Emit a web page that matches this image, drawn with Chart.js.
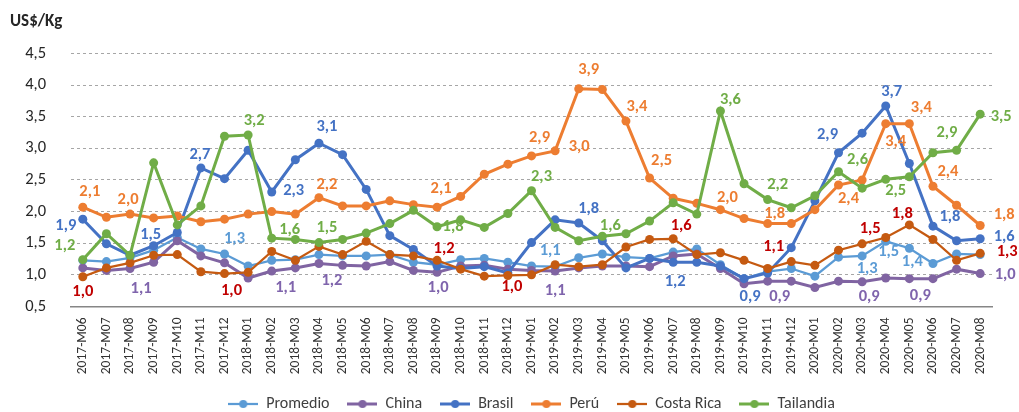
<!DOCTYPE html>
<html>
<head>
<meta charset="utf-8">
<script src="https://cdn.jsdelivr.net/npm/chart.js@4.4.1/dist/chart.umd.min.js"></script>
<style>
  html, body { margin: 0; padding: 0; background: #fff; }
  canvas { display: block; }
</style>
</head>
<body>
<canvas id="precios" width="1019" height="412"></canvas>
<script>
// Months shown on the x axis
const meses = [
  "2017-M06", "2017-M07", "2017-M08", "2017-M09", "2017-M10", "2017-M11", "2017-M12",
  "2018-M01", "2018-M02", "2018-M03", "2018-M04", "2018-M05", "2018-M06", "2018-M07",
  "2018-M08", "2018-M09", "2018-M10", "2018-M11", "2018-M12",
  "2019-M01", "2019-M02", "2019-M03", "2019-M04", "2019-M05", "2019-M06", "2019-M07",
  "2019-M08", "2019-M09", "2019-M10", "2019-M11", "2019-M12",
  "2020-M01", "2020-M02", "2020-M03", "2020-M04", "2020-M05", "2020-M06", "2020-M07",
  "2020-M08",
];

// Prices in US$/Kg
const promedio = [
  1.23, 1.21, 1.27, 1.39, 1.59, 1.41, 1.33, 1.14, 1.23, 1.24, 1.32, 1.30, 1.30,
  1.32, 1.20, 1.16, 1.24, 1.26, 1.20, 1.14, 1.13, 1.27, 1.33, 1.28, 1.26, 1.36,
  1.41, 1.16, 0.94, 1.05, 1.10, 0.98, 1.28, 1.30, 1.53, 1.42, 1.18, 1.33, 1.32,
];
const china = [
  1.11, 1.07, 1.10, 1.20, 1.54, 1.30, 1.19, 0.95, 1.06, 1.11, 1.18, 1.15, 1.14,
  1.21, 1.07, 1.04, 1.14, 1.15, 1.09, 1.07, 1.06, 1.11, 1.14, 1.14, 1.13, 1.30,
  1.33, 1.10, 0.86, 0.90, 0.90, 0.80, 0.90, 0.89, 0.95, 0.94, 0.94, 1.09, 1.02,
];
const brasil = [
  1.88, 1.49, 1.31, 1.46, 1.67, 2.69, 2.52, 2.97, 2.31, 2.82, 3.08, 2.90, 2.35,
  1.62, 1.40, 1.14, 1.10, 1.13, 1.03, 1.51, 1.87, 1.82, 1.54, 1.11, 1.26, 1.20,
  1.20, 1.14, 0.94, 1.03, 1.43, 2.17, 2.93, 3.24, 3.67, 2.76, 1.77, 1.54, 1.57,
];
const peru = [
  2.07, 1.91, 1.96, 1.90, 1.93, 1.84, 1.88, 1.96, 2.00, 1.96, 2.22, 2.09, 2.09,
  2.17, 2.11, 2.07, 2.24, 2.59, 2.75, 2.88, 2.96, 3.94, 3.93, 3.43, 2.53, 2.21,
  2.13, 2.03, 1.89, 1.81, 1.81, 2.03, 2.42, 2.50, 3.39, 3.39, 2.40, 2.10, 1.78,
];
const costaRica = [
  0.97, 1.11, 1.19, 1.31, 1.32, 1.05, 1.02, 1.04, 1.37, 1.23, 1.45, 1.32, 1.53,
  1.32, 1.30, 1.23, 1.09, 0.98, 0.99, 1.00, 1.16, 1.13, 1.16, 1.44, 1.56, 1.57,
  1.32, 1.35, 1.23, 1.10, 1.21, 1.15, 1.39, 1.49, 1.59, 1.79, 1.56, 1.23, 1.34,
];
const tailandia = [
  1.24, 1.65, 1.31, 2.77, 1.79, 2.09, 3.19, 3.21, 1.58, 1.56, 1.51, 1.56, 1.66,
  1.81, 2.02, 1.76, 1.87, 1.75, 1.97, 2.33, 1.75, 1.54, 1.61, 1.65, 1.85, 2.14,
  1.96, 3.59, 2.44, 2.19, 2.06, 2.25, 2.63, 2.37, 2.51, 2.55, 2.93, 2.97, 3.54,
];

const fuente = "Carlito, Lato, 'Liberation Sans', sans-serif";

const series = [
  { label: "Promedio", data: promedio, color: "#5B9BD5", ancho: 2.25, etiqueta: "#5B9BD5" },
  { label: "China", data: china, color: "#8064A2", ancho: 3, etiqueta: "#7F64AC" },
  { label: "Brasil", data: brasil, color: "#4472C4", ancho: 3, etiqueta: "#4472C4" },
  { label: "Perú", data: peru, color: "#ED7D31", ancho: 3, etiqueta: "#ED7D31" },
  { label: "Costa Rica", data: costaRica, color: "#C55A11", ancho: 2.25, etiqueta: "#C00000" },
  { label: "Tailandia", data: tailandia, color: "#70AD47", ancho: 3, etiqueta: "#70AD47" },
];

// Which points get a value label: [series, point, dx, dy] (offsets in px from the marker)
const etiquetas = [
  [0, 6, 10, -15], [0, 20, -5, -16], [0, 33, 5, 13], [0, 34, 3, 11], [0, 35, 3, 14],
  [1, 2, 11, 20], [1, 8, 14, 17], [1, 10, 13, 17], [1, 15, 1, 16], [1, 20, 0, 20],
  [1, 29, 12, 16], [1, 33, 7, 15], [1, 35, 11, 17], [1, 38, 25, 1],
  [2, 0, -17, 7], [2, 3, -3, -11], [2, 5, -1, -13], [2, 8, 22, -1], [2, 10, 8, -16],
  [2, 21, 10, -14], [2, 25, 2, 20], [2, 28, 6, 18], [2, 32, -11, -18], [2, 34, 6, -14],
  [2, 36, 17, -9], [2, 38, 24, -2],
  [3, 0, 7, -15], [3, 2, -2, -14], [3, 10, 8, -13], [3, 15, 4, -18], [3, 19, 8, -18],
  [3, 20, 24, -4], [3, 21, 10, -19], [3, 23, 11, -14], [3, 24, 12, -17], [3, 27, 7, -12],
  [3, 29, 7, -10], [3, 32, 10, 14], [3, 34, 10, 18], [3, 35, 12, -16], [3, 36, 15, -14],
  [3, 38, 24, -11],
  [4, 0, 0, 15], [4, 6, 7, 17], [4, 15, 7, -11], [4, 18, 4, 11], [4, 25, 8, -13],
  [4, 29, 6, -22], [4, 33, 8, -15], [4, 35, -7, -11], [4, 38, 27, -1],
  [5, 0, -18, -14], [5, 7, 6, -14], [5, 8, 18, -8], [5, 10, 8, -15], [5, 15, 16, 0],
  [5, 19, 10, -14], [5, 22, 8, -10], [5, 27, 10, -11], [5, 29, 10, -15], [5, 32, 19, -12],
  [5, 34, 10, 12], [5, 36, 14, -20], [5, 38, 21, 3],
];

const coma = (v) => v.toFixed(1).replace(".", ",");

// legend marker: short line with a dot in the middle
function iconoLeyenda(color, ancho) {
  const c = document.createElement("canvas");
  c.width = 30;
  c.height = 10;
  const g = c.getContext("2d");
  g.strokeStyle = color;
  g.lineWidth = ancho;
  g.beginPath();
  g.moveTo(0, 5);
  g.lineTo(30, 5);
  g.stroke();
  g.fillStyle = color;
  g.beginPath();
  g.arc(15, 5, 4, 0, Math.PI * 2);
  g.fill();
  return c;
}

const etiquetasPlugin = {
  id: "etiquetas",
  afterDatasetsDraw(chart) {
    const { ctx } = chart;
    ctx.save();
    ctx.font = "bold 16.5px " + fuente;
    ctx.textAlign = "center";
    ctx.textBaseline = "middle";
    etiquetas.forEach(([ds, i, dx, dy]) => {
      const pt = chart.getDatasetMeta(ds).data[i];
      ctx.fillStyle = series[ds].etiqueta;
      ctx.fillText(coma(series[ds].data[i]), pt.x + dx, pt.y + dy);
    });
    ctx.restore();
  },
};

new Chart(document.getElementById("precios"), {
  type: "line",
  data: {
    labels: meses,
    datasets: series.map((s, i) => ({
      label: s.label,
      data: s.data,
      borderColor: s.color,
      backgroundColor: s.color,
      borderWidth: s.ancho,
      pointRadius: 4.5,
      pointBorderWidth: 0,
      pointBackgroundColor: s.color,
      tension: 0,
      order: series.length - i, // last series drawn on top, like the original
    })),
  },
  options: {
    responsive: false,
    animation: false,
    layout: { padding: { left: 10, right: 27, top: 0, bottom: -10 } },
    plugins: {
      tooltip: { enabled: false },
      title: {
        display: true,
        text: "US$/Kg",
        align: "start",
        color: "#262626",
        font: { family: fuente, size: 17, weight: "bold" },
        padding: { top: 12, bottom: 21 },
      },
      legend: {
        position: "bottom",
        fullSize: false,
        labels: {
          usePointStyle: true,
          pointStyleWidth: 30,
          padding: 18,
          color: "#404040",
          font: { family: fuente, size: 16 },
          generateLabels: (chart) =>
            chart.data.datasets.map((ds, i) => ({
              text: ds.label,
              fillStyle: ds.borderColor,
              strokeStyle: ds.borderColor,
              lineWidth: 0,
              pointStyle: iconoLeyenda(ds.borderColor, ds.borderWidth),
              datasetIndex: i,
              hidden: false,
              fontColor: "#404040",
            })),
        },
      },
    },
    scales: {
      x: {
        offset: true,
        grid: { display: false, drawTicks: false, offset: true },
        border: { display: true, color: "#868686", width: 1.5 },
        ticks: {
          autoSkip: false,
          minRotation: 90,
          maxRotation: 90,
          padding: 11,
          color: "#333",
          font: { family: fuente, size: 13.5 },
        },
        afterFit: (scale) => { scale.height = 71.5; },
      },
      y: {
        min: 0.5,
        max: 4.5,
        grid: { color: "#A6A6A6", lineWidth: 1, drawTicks: false },
        border: { display: false, dash: [3, 3] },
        ticks: {
          stepSize: 0.5,
          padding: 25,
          color: "#262626",
          font: { family: fuente, size: 16.5 },
          callback: (v) => coma(v),
        },
        afterFit: (scale) => { scale.width = 61; },
      },
    },
  },
  plugins: [etiquetasPlugin],
});
</script>
</body>
</html>
